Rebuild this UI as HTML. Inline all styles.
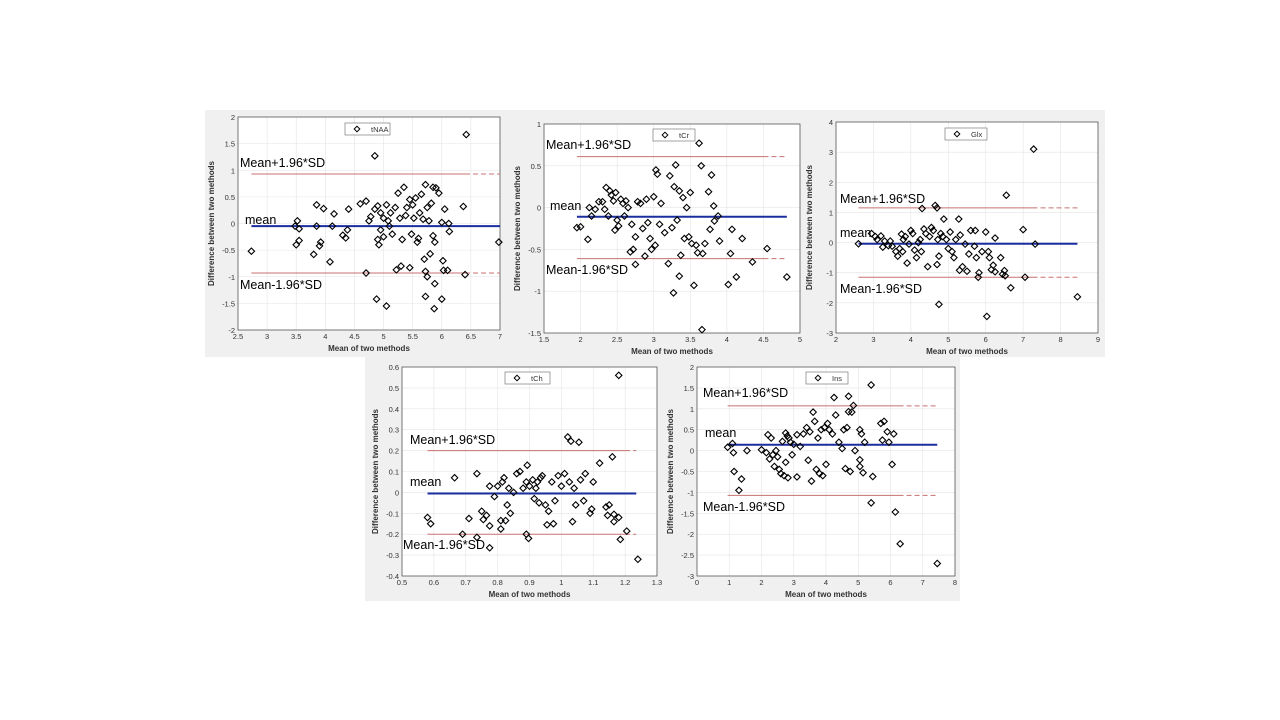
<!DOCTYPE html>
<html><head><meta charset="utf-8"><style>
body{margin:0;background:#fff;width:1280px;height:720px;overflow:hidden}
svg{display:block}
text{font-family:"Liberation Sans",sans-serif}
</style></head><body>
<svg id="c" width="1280" height="720">
<rect x="205" y="110" width="900" height="247" fill="#f0f0f0"/>
<rect x="365" y="357" width="595" height="244" fill="#f0f0f0"/>
</svg>
<script>
const tnaaPoints=[[2.73,-0.52],[3.48,-0.05],[3.52,0.05],[3.55,-0.1],[3.5,-0.4],[3.55,-0.32],[3.8,-0.58],[3.85,0.35],[3.85,-0.05],[3.9,-0.42],[3.92,-0.35],[3.97,0.28],[4.08,-0.72],[4.12,-0.05],[4.15,0.18],[4.3,-0.22],[4.35,-0.27],[4.38,-0.12],[4.4,0.27],[4.6,0.37],[4.7,0.42],[4.7,-0.93],[4.75,0.05],[4.78,0.13],[4.85,1.27],[4.85,0.27],[4.88,-1.42],[4.9,0.33],[4.9,-0.3],[4.92,-0.4],[4.95,0.2],[4.95,-0.12],[5.0,0.1],[5.0,-0.25],[5.05,-1.55],[5.05,0.35],[5.08,0.05],[5.1,-0.05],[5.12,0.2],[5.15,-0.2],[5.2,0.3],[5.22,-0.87],[5.25,0.57],[5.28,0.1],[5.3,-0.8],[5.32,-0.3],[5.35,0.68],[5.38,0.15],[5.4,0.3],[5.45,-0.83],[5.45,0.45],[5.48,-0.2],[5.5,0.35],[5.52,0.1],[5.55,0.48],[5.58,-0.35],[5.6,-0.28],[5.62,0.2],[5.65,0.55],[5.68,0.08],[5.7,-0.67],[5.72,0.73],[5.72,-0.9],[5.75,-1.0],[5.72,-1.37],[5.75,0.3],[5.78,0.05],[5.8,-0.57],[5.82,0.38],[5.85,0.68],[5.85,-0.23],[5.88,-0.35],[5.88,-1.13],[5.87,-1.6],[5.9,0.67],[5.95,0.57],[6.0,0.02],[6.0,-1.42],[6.02,-0.7],[6.03,-0.88],[6.05,0.27],[6.1,-0.88],[6.12,0.0],[6.13,-0.15],[6.37,0.32],[6.4,-0.96],[6.42,1.67],[6.98,-0.35]];
const tcrPoints=[[1.95,-0.24],[2.0,-0.23],[2.1,-0.38],[2.12,0.0],[2.15,-0.1],[2.2,-0.02],[2.25,0.07],[2.3,0.07],[2.33,-0.02],[2.35,0.24],[2.38,-0.1],[2.4,0.2],[2.42,0.15],[2.45,0.08],[2.48,0.18],[2.47,-0.27],[2.5,-0.15],[2.52,-0.22],[2.55,0.1],[2.58,0.05],[2.6,-0.1],[2.62,0.08],[2.65,0.0],[2.68,-0.53],[2.7,-0.2],[2.72,-0.5],[2.75,-0.35],[2.75,-0.68],[2.78,0.07],[2.82,0.05],[2.85,-0.25],[2.88,-0.58],[2.9,0.1],[2.92,-0.18],[2.95,-0.37],[2.97,-0.5],[3.0,0.13],[3.02,-0.45],[3.03,0.45],[3.05,0.4],[3.08,-0.2],[3.1,0.05],[3.15,-0.3],[3.2,-0.67],[3.22,0.38],[3.25,-0.24],[3.27,-1.02],[3.28,0.25],[3.3,0.51],[3.32,-0.15],[3.35,-0.82],[3.35,0.2],[3.37,-0.57],[3.4,0.12],[3.42,-0.37],[3.45,0.0],[3.48,-0.35],[3.5,0.18],[3.52,-0.43],[3.55,-0.93],[3.58,-0.45],[3.6,-0.54],[3.62,0.77],[3.65,0.5],[3.67,-0.55],[3.66,-1.46],[3.7,-0.43],[3.75,0.19],[3.77,-0.26],[3.79,0.39],[3.82,0.02],[3.83,-0.16],[3.88,-0.1],[3.9,-0.4],[4.02,-0.92],[4.05,-0.55],[4.07,-0.26],[4.13,-0.83],[4.21,-0.37],[4.35,-0.65],[4.55,-0.49],[4.82,-0.83]];
const glxPoints=[[2.6,-0.04],[2.95,0.3],[3.05,0.2],[3.1,0.1],[3.2,0.22],[3.25,-0.15],[3.3,0.05],[3.4,-0.1],[3.45,0.05],[3.5,-0.12],[3.6,-0.3],[3.65,-0.45],[3.7,-0.2],[3.75,0.28],[3.78,-0.3],[3.8,0.1],[3.85,0.2],[3.9,-0.68],[3.95,-0.05],[4.0,0.4],[4.05,0.3],[4.1,-0.25],[4.15,-0.5],[4.2,0.0],[4.25,0.1],[4.28,-0.3],[4.3,1.13],[4.35,0.45],[4.4,0.3],[4.45,-0.8],[4.5,0.2],[4.55,0.5],[4.6,0.4],[4.65,1.23],[4.7,1.15],[4.7,-0.73],[4.72,0.1],[4.75,-0.45],[4.75,-2.05],[4.8,0.3],[4.85,0.2],[4.88,0.78],[4.95,0.1],[5.0,-0.2],[5.05,0.35],[5.1,-0.3],[5.15,-0.5],[5.2,0.1],[5.28,0.78],[5.3,-0.92],[5.32,0.25],[5.38,-0.8],[5.45,-0.05],[5.5,-0.95],[5.55,-0.38],[5.6,0.4],[5.7,-0.12],[5.72,0.4],[5.75,-0.5],[5.8,-1.15],[5.82,-1.0],[5.9,-0.3],[6.0,0.35],[6.03,-2.45],[6.07,-0.3],[6.1,-0.5],[6.15,-0.9],[6.2,-0.75],[6.25,0.15],[6.25,-0.97],[6.4,-0.5],[6.45,-1.05],[6.5,-0.93],[6.52,-1.1],[6.55,1.57],[6.67,-1.5],[7.0,0.43],[7.05,-1.15],[7.28,3.1],[7.32,-0.05],[8.45,-1.8]];
const tchPoints=[[0.58,-0.12],[0.59,-0.15],[0.665,0.07],[0.69,-0.2],[0.71,-0.125],[0.735,0.09],[0.735,-0.215],[0.75,-0.09],[0.755,-0.13],[0.765,-0.11],[0.775,0.03],[0.775,-0.16],[0.775,-0.265],[0.79,-0.02],[0.8,0.03],[0.81,-0.135],[0.81,-0.175],[0.815,0.05],[0.82,0.07],[0.825,-0.135],[0.83,-0.06],[0.835,0.02],[0.84,-0.1],[0.85,0.0],[0.86,0.09],[0.87,0.1],[0.88,0.02],[0.89,0.05],[0.89,-0.2],[0.893,0.13],[0.897,-0.22],[0.9,0.03],[0.91,0.06],[0.915,-0.03],[0.92,0.02],[0.925,0.05],[0.93,-0.05],[0.935,0.07],[0.94,0.08],[0.95,-0.06],[0.955,-0.155],[0.96,-0.09],[0.97,0.05],[0.975,-0.15],[0.98,-0.04],[0.99,0.08],[1.0,0.03],[1.01,0.09],[1.02,0.265],[1.025,0.05],[1.03,0.245],[1.035,-0.14],[1.04,0.02],[1.045,-0.06],[1.055,0.24],[1.06,0.06],[1.07,-0.04],[1.075,0.09],[1.09,-0.1],[1.095,-0.08],[1.1,0.05],[1.12,0.14],[1.14,-0.07],[1.145,-0.11],[1.15,-0.06],[1.16,0.17],[1.165,-0.14],[1.165,-0.105],[1.18,-0.12],[1.18,0.56],[1.185,-0.225],[1.205,-0.185],[1.24,-0.32]];
const insPoints=[[0.95,0.08],[1.1,0.17],[1.13,-0.05],[1.15,-0.5],[1.3,-0.95],[1.38,-0.68],[1.55,0.0],[2.0,0.02],[2.15,-0.05],[2.2,0.38],[2.25,-0.2],[2.3,0.3],[2.35,-0.1],[2.4,-0.38],[2.45,0.0],[2.5,-0.15],[2.55,-0.45],[2.6,-0.55],[2.65,0.22],[2.7,-0.6],[2.75,0.42],[2.75,-0.28],[2.8,0.35],[2.82,-0.65],[2.85,0.3],[2.9,0.2],[2.95,-0.1],[3.0,0.15],[3.1,0.38],[3.1,-0.63],[3.2,0.1],[3.3,0.4],[3.4,0.55],[3.45,-0.23],[3.5,0.45],[3.55,-0.73],[3.6,0.92],[3.65,0.7],[3.7,-0.45],[3.75,0.3],[3.8,-0.55],[3.85,0.5],[3.9,-0.6],[3.95,0.55],[4.0,-0.33],[4.05,0.65],[4.1,0.5],[4.2,0.4],[4.25,1.27],[4.3,0.85],[4.4,0.2],[4.5,0.05],[4.55,0.5],[4.6,-0.43],[4.65,0.55],[4.7,1.3],[4.7,0.93],[4.75,-0.5],[4.8,0.92],[4.85,1.08],[4.9,0.0],[5.05,-0.22],[5.05,-0.38],[5.05,0.5],[5.1,0.4],[5.15,-0.53],[5.2,0.2],[5.4,1.57],[5.4,-1.25],[5.45,-0.62],[5.7,0.65],[5.75,0.25],[5.8,0.7],[5.9,0.45],[5.95,0.2],[6.05,-0.33],[6.1,0.4],[6.15,-1.47],[6.3,-2.23],[7.45,-2.7]];
const tnaaXTicks=[2.5,3,3.5,4,4.5,5,5.5,6,6.5,7], tnaaYTicks=[-2,-1.5,-1,-0.5,0,0.5,1,1.5,2];
const tcrXTicks=[1.5,2,2.5,3,3.5,4,4.5,5], tcrYTicks=[-1.5,-1,-0.5,0,0.5,1];
const glxXTicks=[2,3,4,5,6,7,8,9], glxYTicks=[-3,-2,-1,0,1,2,3,4];
const tchXTicks=[0.5,0.6,0.7,0.8,0.9,1,1.1,1.2,1.3], tchYTicks=[-0.4,-0.3,-0.2,-0.1,0,0.1,0.2,0.3,0.4,0.5,0.6];
const insXTicks=[0,1,2,3,4,5,6,7,8], insYTicks=[-3,-2.5,-2,-1.5,-1,-0.5,0,0.5,1,1.5,2];
// [mean, upper, lower, lineStart, solidEnd, lineEnd]
const tnaaStats=[-0.05,0.93,-0.93,2.73,6.4,7.0];
const tcrStats=[-0.11,0.61,-0.61,1.95,4.5,4.82];
const glxStats=[-0.04,1.15,-1.15,2.6,7.25,8.45];
const tchStats=[-0.005,0.2,-0.2,0.58,1.2,1.235];
const insStats=[0.14,1.07,-1.07,0.95,6.25,7.45];

const NS='http://www.w3.org/2000/svg';
const svg=document.getElementById('c');
function mk(tag,attrs,parent,txt){const e=document.createElementNS(NS,tag);for(const k in attrs)e.setAttribute(k,attrs[k]);if(txt!==undefined)e.textContent=txt;(parent||svg).appendChild(e);return e;}
function panel(id,box,xr,yr,xt,yt,pts,st,leg,lbl){
  const [L,T,R,B]=box;
  const g=mk('g',{});
  
  
  const X=v=>L+(v-xr[0])/(xr[1]-xr[0])*(R-L);
  const Y=v=>B-(v-yr[0])/(yr[1]-yr[0])*(B-T);
  mk('rect',{x:L,y:T,width:R-L,height:B-T,fill:'#fff'},g);
  xt.forEach(v=>{
    mk('line',{x1:X(v),x2:X(v),y1:T,y2:B,stroke:'#e4e4e4','stroke-width':0.6},g);
    const t=mk('text',{x:X(v),y:B+9,'font-size':7.5,fill:'#333','text-anchor':'middle'},g,String(v));
    
    
  });
  yt.forEach(v=>{
    mk('line',{x1:L,x2:R,y1:Y(v),y2:Y(v),stroke:'#e4e4e4','stroke-width':0.6},g);
    const t=mk('text',{x:L-3,y:Y(v)+3,'font-size':7.5,fill:'#333','text-anchor':'end'},g,String(v));
    
    
  });
  mk('rect',{x:L,y:T,width:R-L,height:B-T,fill:'none',stroke:'#444','stroke-width':0.7},g);
  [st[1],st[2]].forEach((v,i)=>{
    const l=mk('line',{x1:X(st[3]),x2:X(st[4]),y1:Y(v),y2:Y(v),stroke:'#c87070','stroke-width':1},g);
    
    
    mk('line',{x1:X(st[4]),x2:X(st[5]),y1:Y(v),y2:Y(v),stroke:'#c87070','stroke-width':1,'stroke-dasharray':'5,3'},g);
  });
  const m=mk('line',{x1:X(st[3]),x2:X(st[5]),y1:Y(st[0]),y2:Y(st[0]),stroke:'#1a2ea0','stroke-width':2},g);
  
  
  pts.forEach(p=>{
    const cx=X(p[0]),cy=Y(p[1]);
    const d=mk('polygon',{points:`${cx},${cy-3.2} ${cx+3.2},${cy} ${cx},${cy+3.2} ${cx-3.2},${cy}`,fill:'none',stroke:'#000','stroke-width':1.1},g);
    
    
  });
  const lg=mk('g',{},g);
  
  
  mk('rect',{x:leg[0],y:leg[1],width:leg[2],height:12,fill:'#fff',stroke:'#666','stroke-width':0.6},lg);
  const lx=leg[0]+12,ly=leg[1]+6;
  mk('polygon',{points:`${lx},${ly-2.8} ${lx+2.8},${ly} ${lx},${ly+2.8} ${lx-2.8},${ly}`,fill:'none',stroke:'#000','stroke-width':1},lg);
  mk('text',{x:leg[0]+26,y:leg[1]+9,'font-size':7.5,fill:'#333'},lg,leg[3]);
  const names=['upper-limit-label','mean-label','lower-limit-label'],txt=['Mean+1.96*SD','mean','Mean-1.96*SD'];
  lbl.forEach((p,i)=>{
    const t=mk('text',{x:p[0],y:p[1]+4,'font-size':12.5,fill:'#000'},g,txt[i]);
    
    
  });
  const xl=mk('text',{x:(L+R)/2,y:B+21,'font-size':8,'font-weight':'bold',fill:'#333','text-anchor':'middle'},g,'Mean of two methods');
  
  
  const yx=L-24,yy=(T+B)/2;
  const yl=mk('text',{x:yx,y:yy,'font-size':8,'font-weight':'bold',fill:'#333','text-anchor':'middle',transform:`rotate(-90 ${yx} ${yy})`},g,'Difference between two methods');
  
  
}
panel('tnaa',[238,117,500,330],[2.5,7],[-2,2],tnaaXTicks,tnaaYTicks,tnaaPoints,tnaaStats,[345,123,45,'tNAA'],[[240,163],[245,220],[240,285]]);
panel('tcr',[544,124,800,333],[1.5,5],[-1.5,1],tcrXTicks,tcrYTicks,tcrPoints,tcrStats,[653,129,42,'tCr'],[[546,145],[550,206],[546,270]]);
panel('glx',[836,122,1098,333],[2,9],[-3,4],glxXTicks,glxYTicks,glxPoints,glxStats,[945,128,42,'Glx'],[[840,199],[840,233],[840,289]]);
panel('tch',[402,367,657,576],[0.5,1.3],[-0.4,0.6],tchXTicks,tchYTicks,tchPoints,tchStats,[505,372,45,'tCh'],[[410,440],[410,482],[403,545]]);
panel('ins',[697,367,955,576],[0,8],[-3,2],insXTicks,insYTicks,insPoints,insStats,[806,372,42,'Ins'],[[703,393],[705,433],[703,507]]);
</script>
</body></html>
